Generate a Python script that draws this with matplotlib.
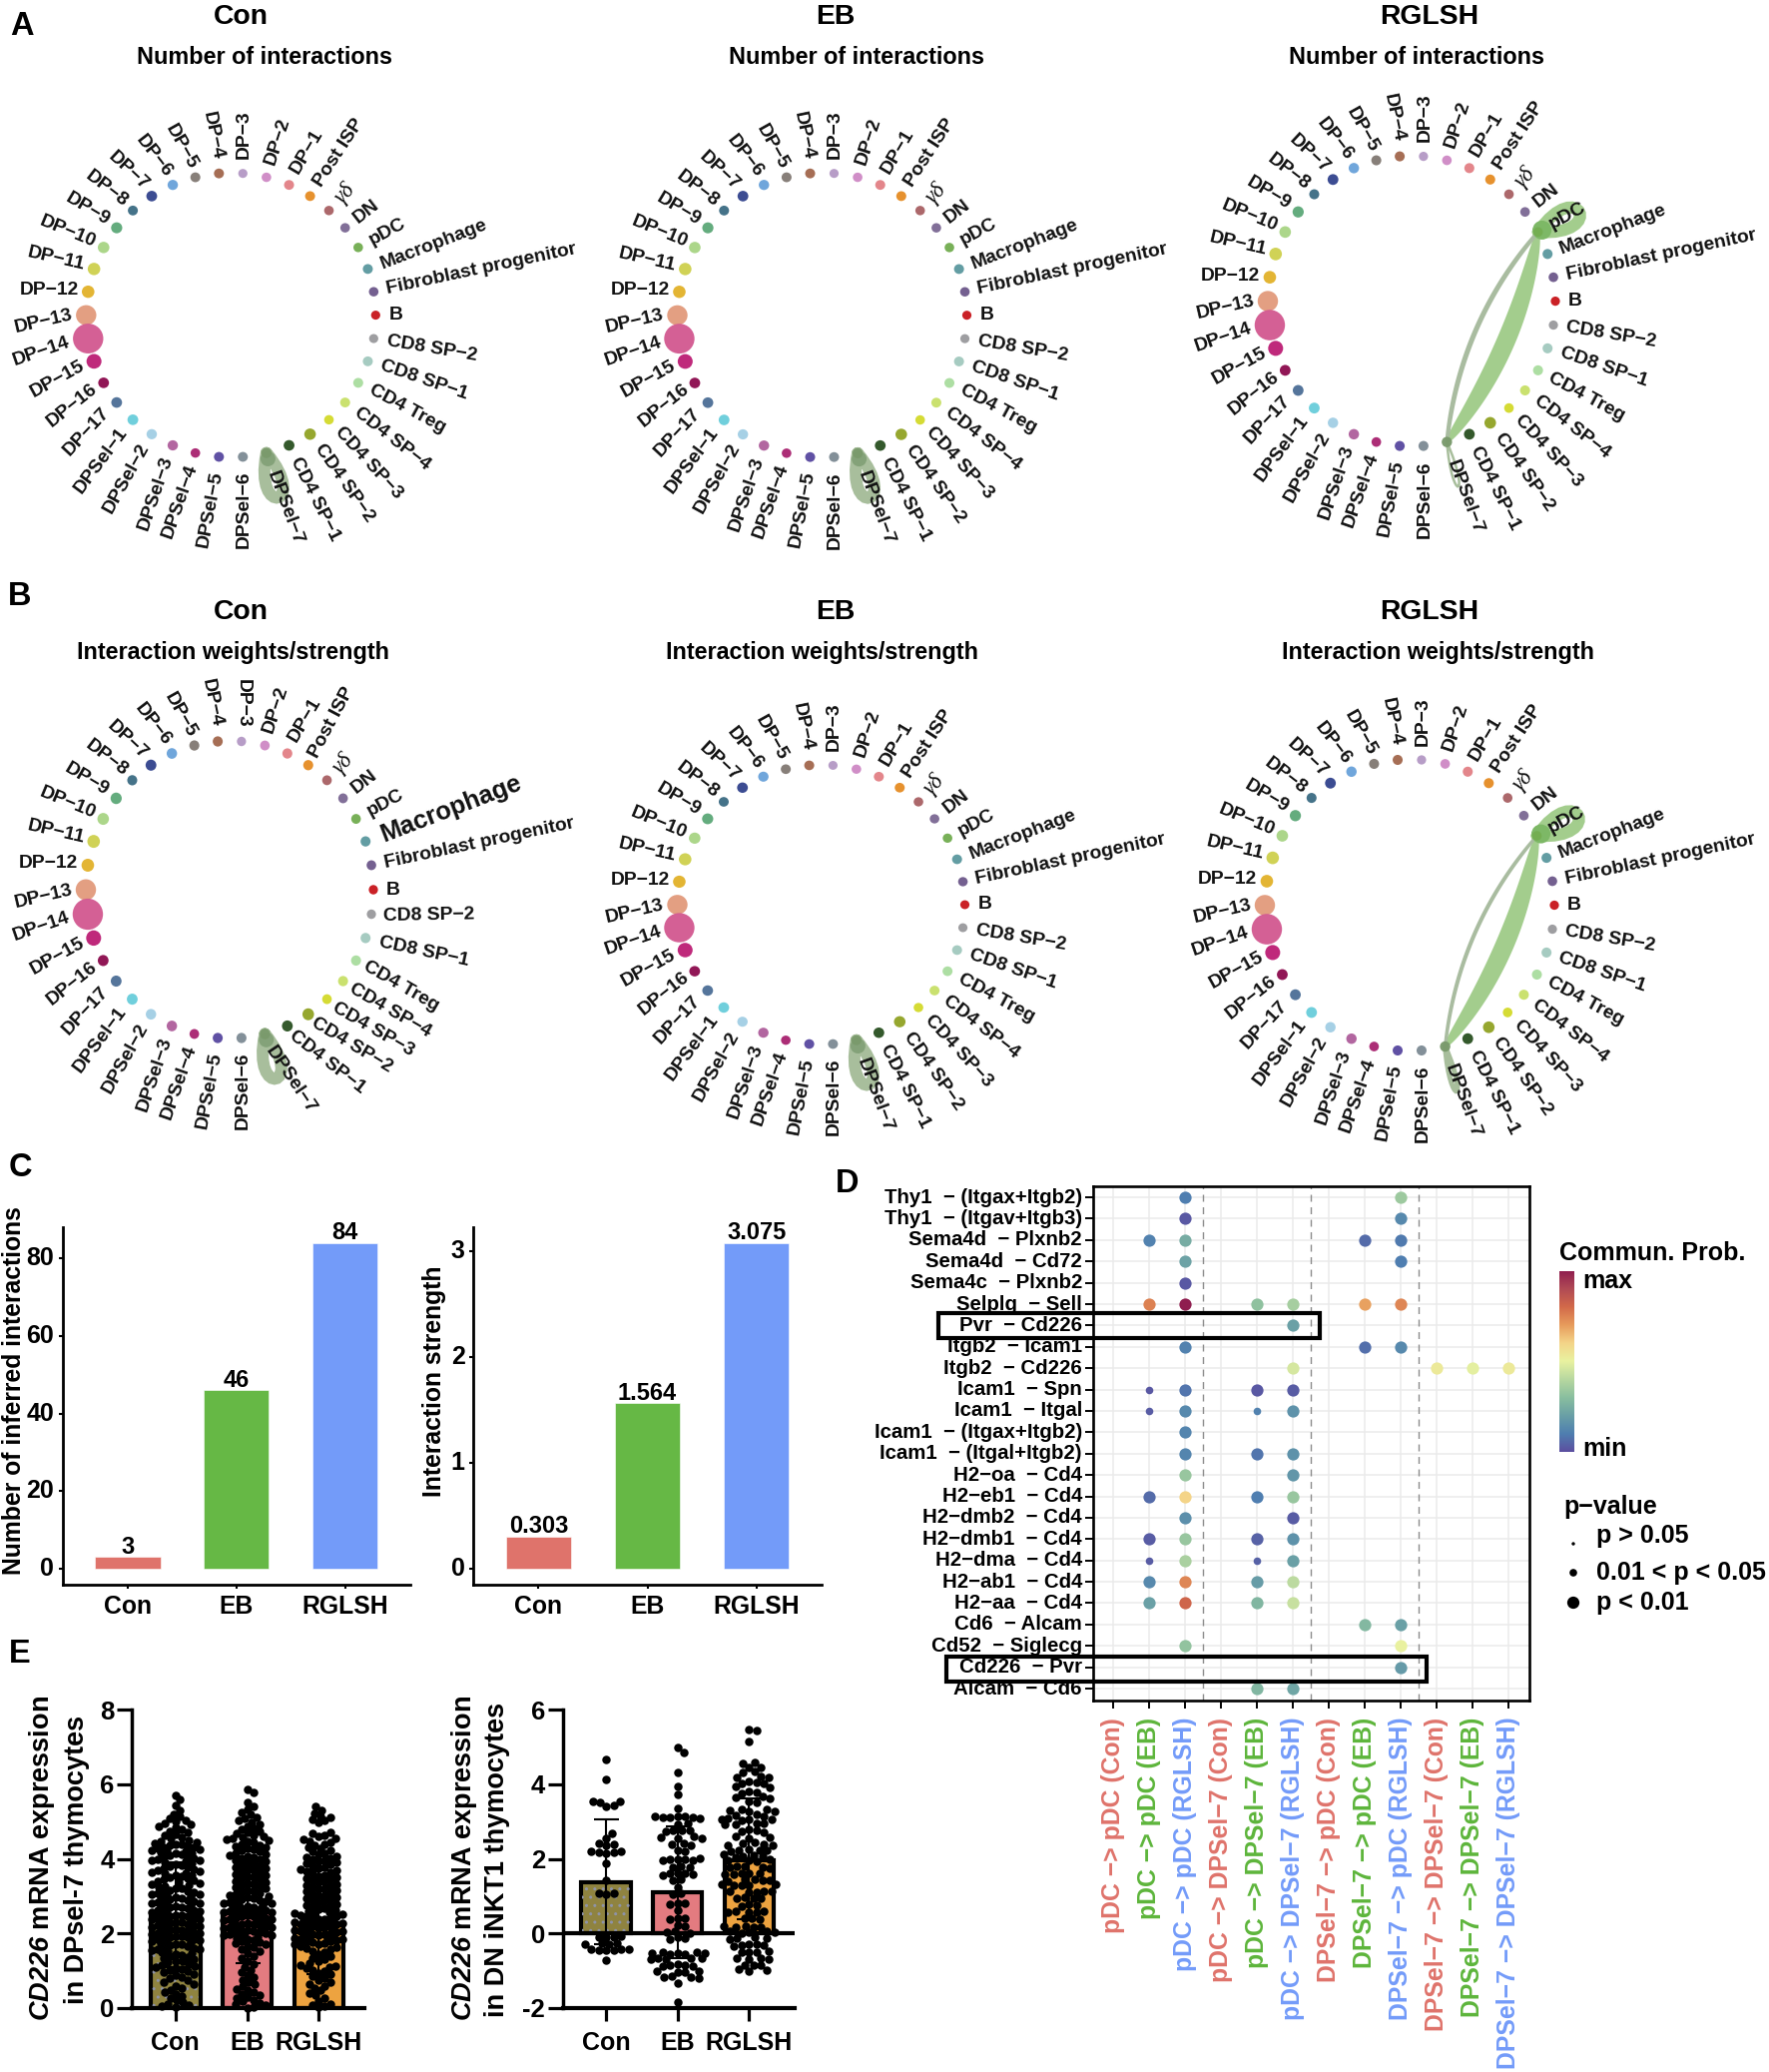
import numpy as np
import matplotlib
matplotlib.use('Agg')
import matplotlib.pyplot as plt
from matplotlib.patches import Ellipse, Polygon, PathPatch, Rectangle
from matplotlib.path import Path
from matplotlib.colors import LinearSegmentedColormap
from matplotlib.transforms import ScaledTranslation

plt.rcParams['font.family'] = ['Liberation Sans', 'DejaVu Sans']
plt.rcParams['font.weight'] = 'bold'
plt.rcParams['mathtext.fontset'] = 'custom'
plt.rcParams['mathtext.bfit'] = 'Liberation Sans:italic:bold'
plt.rcParams['mathtext.rm'] = 'Liberation Sans:bold'
plt.rcParams['hatch.linewidth'] = 1.0

W, H = 1772, 2075
PX = 72 / 100  # points per pixel

# ---------------- data: circle plots ----------------
cell_names = ['B', 'Fibroblast progenitor', 'Macrophage', 'pDC', 'DN', 'γδ', 'Post ISP',
              'DP−1', 'DP−2', 'DP−3', 'DP−4', 'DP−5', 'DP−6', 'DP−7', 'DP−8', 'DP−9', 'DP−10',
              'DP−11', 'DP−12', 'DP−13', 'DP−14', 'DP−15', 'DP−16', 'DP−17',
              'DPSel−1', 'DPSel−2', 'DPSel−3', 'DPSel−4', 'DPSel−5', 'DPSel−6', 'DPSel−7',
              'CD4 SP−1', 'CD4 SP−2', 'CD4 SP−3', 'CD4 SP−4', 'CD4 Treg', 'CD8 SP−1', 'CD8 SP−2']
cell_colors = ['#C9191F', '#6F5B8C', '#5E9AA0', '#74AE52', '#7D6A95', '#AA6366', '#E68E27',
               '#E38287', '#CF8AC5', '#B59AC6', '#A3694F', '#837B75', '#6BA3DA', '#35468F',
               '#3F6E85', '#5FA97A', '#A9D586', '#CFD150', '#E3B32D', '#E39C7E', '#D35B92',
               '#BD2277', '#8E0F50', '#4F7198', '#6BCEDB', '#A3CFE5', '#B0619D', '#A92672',
               '#5B4BA1', '#7F8C96', '#7A9A6C', '#2D5425', '#93A428', '#D4DA2E', '#C9E06A',
               '#ABDDA0', '#A3CABF', '#9B9B9E']
cell_sizes = [4.6, 4.8, 5.0, 4.8, 4.8, 4.8, 5.0, 5.0, 4.8, 4.6, 5.0, 5.0, 5.2, 5.4, 5.0, 5.6, 5.8,
              6.3, 6.3, 10.2, 15.2, 7.5, 5.4, 5.4, 5.4, 5.2, 5.2, 4.8, 5.0, 5.0, 5.2, 5.4, 5.8,
              4.8, 5.0, 5.0, 5.0, 4.6]
# measured tilt of each label against its node's radial direction, degrees
label_tilt = {'DP−1': -7, 'DP−2': -4, 'DP−3': 4.7, 'DP−4': 7, 'DP−5': 15, 'DP−6': 14, 'DP−7': 14, 'DP−8': 10,
              'DP−9': 7, 'DP−10': 6, 'DP−11': 6, 'DP−12': 9.5, 'DP−13': 13, 'DP−14': 9.5, 'DP−15': 10,
              'DP−16': 10, 'DP−17': 9, 'DPSel−1': 6, 'DPSel−2': 4, 'DPSel−3': 5, 'DPSel−4': -5, 'DPSel−5': -6,
              'DPSel−7': 6, 'Fibroblast progenitor': 2.5, 'Macrophage': 2, 'CD4 SP−1': 3, 'CD4 SP−2': 2}

# loop/link strengths: (source, target, width in px)
links_con = [('DPSel−7', 'DPSel−7', 12)]
links_rglsh_num = [('DPSel−7', 'DPSel−7', 2.5), ('pDC', 'pDC', 12),
                   ('DPSel−7', 'pDC', 17), ('pDC', 'DPSel−7', 3.5)]
links_rglsh_str = [('DPSel−7', 'DPSel−7', 5), ('pDC', 'pDC', 12),
                   ('DPSel−7', 'pDC', 17), ('pDC', 'DPSel−7', 2.5)]

# ---------------- data: bars ----------------
groups = ['Con', 'EB', 'RGLSH']
group_colors = ['#DF736B', '#66B845', '#739BF9']
n_interactions = [3, 46, 84]
strength = [0.303, 1.564, 3.075]
strength_labels = ['0.303', '1.564', '3.075']

# ---------------- data: dot plot ----------------
lr_pairs = ['Thy1  − (Itgax+Itgb2)', 'Thy1  − (Itgav+Itgb3)', 'Sema4d  − Plxnb2', 'Sema4d  − Cd72',
            'Sema4c  − Plxnb2', 'Selplg  − Sell', 'Pvr  − Cd226', 'Itgb2  − Icam1', 'Itgb2  − Cd226',
            'Icam1  − Spn', 'Icam1  − Itgal', 'Icam1  − (Itgax+Itgb2)', 'Icam1  − (Itgal+Itgb2)',
            'H2−oa  − Cd4', 'H2−eb1  − Cd4', 'H2−dmb2  − Cd4', 'H2−dmb1  − Cd4', 'H2−dma  − Cd4',
            'H2−ab1  − Cd4', 'H2−aa  − Cd4', 'Cd6  − Alcam', 'Cd52  − Siglecg', 'Cd226  − Pvr',
            'Alcam  − Cd6']
lr_label_shift = [-1, -1, 1, 1, -1.5, -1, -1, -4, -1.5, -1, -1.5, -1, 0, 1, 0, 0, 2, 1, -2.5, -1,
                  0, 0, 1.5, 0]
pair_labels = ['pDC −> pDC (Con)', 'pDC −> pDC (EB)', 'pDC −> pDC (RGLSH)',
               'pDC −> DPSel−7 (Con)', 'pDC −> DPSel−7 (EB)', 'pDC −> DPSel−7 (RGLSH)',
               'DPSel−7 −> pDC (Con)', 'DPSel−7 −> pDC (EB)', 'DPSel−7 −> pDC (RGLSH)',
               'DPSel−7 −> DPSel−7 (Con)', 'DPSel−7 −> DPSel−7 (EB)', 'DPSel−7 −> DPSel−7 (RGLSH)']
pair_colors = ['#DF736B', '#5DB53B', '#739BF9'] * 4
dot_rows = [0, 0, 1, 1, 2, 2, 2, 2, 3, 3, 4, 5, 5, 5, 5, 5, 5, 6, 7, 7, 7, 8, 8, 8, 8,
            9, 9, 9, 9, 10, 10, 10, 10, 11, 12, 12, 12, 13, 13, 14, 14, 14, 14, 15, 15,
            16, 16, 16, 16, 17, 17, 17, 17, 18, 18, 18, 18, 19, 19, 19, 19, 20, 20, 21, 21, 22, 23, 23]
dot_cols = [2, 8, 2, 8, 1, 2, 7, 8, 2, 8, 2, 1, 2, 4, 5, 7, 8, 5, 2, 7, 8, 5, 9, 10, 11,
            1, 2, 4, 5, 1, 2, 4, 5, 2, 2, 4, 5, 2, 5, 1, 2, 4, 5, 2, 5,
            1, 2, 4, 5, 1, 2, 4, 5, 1, 2, 4, 5, 1, 2, 4, 5, 7, 8, 2, 8, 8, 4, 5]
dot_vals = [0.10, 0.34, 0.02, 0.13, 0.11, 0.24, 0.06, 0.09, 0.21, 0.10, 0.02,
            0.75, 1.00, 0.31, 0.36, 0.69, 0.74, 0.20, 0.11, 0.07, 0.13, 0.46, 0.53, 0.49, 0.53,
            0.02, 0.08, 0.02, 0.03, 0.03, 0.13, 0.11, 0.16, 0.12, 0.12, 0.08, 0.16, 0.33, 0.17,
            0.06, 0.60, 0.10, 0.33, 0.15, 0.03, 0.03, 0.33, 0.04, 0.16, 0.03, 0.37, 0.04, 0.20,
            0.13, 0.74, 0.19, 0.41, 0.20, 0.81, 0.27, 0.43, 0.28, 0.20, 0.32, 0.50, 0.18, 0.27, 0.22]
dot_small = {(9, 1), (10, 1), (10, 4), (17, 1), (17, 4)}
cbar_stops = ['#5C4FA0', '#4F7FB0', '#6AA0A6', '#8ABF9F', '#B8D8A0', '#E9F2A0', '#F4D488', '#E79B5C',
              '#D2694A', '#B04A55', '#8F1D4F']

# ---------------- data: expression bars ----------------
dpsel_means = [2.50, 2.57, 2.28]
dpsel_lower = [1.10, 1.20, 0.90]
dpsel_upper = [3.90, 3.94, 3.68]
dn_means = [1.37, 1.10, 1.97]
dn_lower = [-0.30, -0.65, 0.37]
dn_upper = [3.05, 2.88, 3.63]
expr_colors = ['#8F8340', '#E37B80', '#EDA340']

dpsel_con = [0.02, 0.05, 0.08, 0.12, 0.17, 0.22, 0.27, 0.33, 0.38, 0.44, 0.49, 0.54, 0.6, 0.65, 0.7, 0.75, 0.8, 0.84,
             0.88, 0.92, 0.96, 0.99, 1.02, 1.05, 1.07, 1.1, 1.13, 1.16, 1.19, 1.22, 1.25, 1.27, 1.3, 1.33, 1.36, 1.38,
             1.41, 1.44, 1.47, 1.49, 1.52, 1.54, 1.57, 1.59, 1.61, 1.63, 1.66, 1.68, 1.7, 1.72, 1.74, 1.76, 1.78, 1.8,
             1.82, 1.84, 1.85, 1.87, 1.89, 1.9, 1.92, 1.93, 1.95, 1.96, 1.97, 1.98, 1.99, 2.0, 2.02, 2.03, 2.05, 2.06,
             2.08, 2.1, 2.11, 2.13, 2.15, 2.16, 2.18, 2.19, 2.21, 2.23, 2.24, 2.26, 2.27, 2.29, 2.31, 2.32, 2.34, 2.35,
             2.37, 2.39, 2.4, 2.42, 2.44, 2.45, 2.47, 2.48, 2.5, 2.52, 2.53, 2.55, 2.56, 2.58, 2.6, 2.62, 2.63, 2.65,
             2.67, 2.69, 2.7, 2.72, 2.74, 2.76, 2.78, 2.8, 2.82, 2.84, 2.86, 2.88, 2.9, 2.92, 2.94, 2.96, 2.98, 3.0,
             3.02, 3.04, 3.06, 3.08, 3.1, 3.12, 3.14, 3.17, 3.2, 3.22, 3.25, 3.27, 3.3, 3.32, 3.35, 3.37, 3.4, 3.42,
             3.45, 3.47, 3.5, 3.52, 3.55, 3.57, 3.6, 3.62, 3.65, 3.67, 3.7, 3.72, 3.75, 3.77, 3.8, 3.82, 3.85, 3.87,
             3.9, 3.92, 3.95, 3.97, 4.0, 4.02, 4.05, 4.07, 4.1, 4.12, 4.14, 4.16, 4.18, 4.2, 4.22, 4.24, 4.26, 4.28,
             4.3, 4.32, 4.34, 4.36, 4.38, 4.4, 4.42, 4.44, 4.47, 4.5, 4.54, 4.58, 4.62, 4.66, 4.7, 4.74, 4.78, 4.83,
             4.88, 4.92, 4.96, 5.0, 5.04, 5.08, 5.13, 5.2, 5.3, 5.42, 5.58, 5.7]
dpsel_eb = [0.01, 0.04, 0.07, 0.1, 0.14, 0.18, 0.22, 0.26, 0.3, 0.34, 0.38, 0.42, 0.47, 0.52, 0.58, 0.64, 0.7, 0.76,
            0.82, 0.88, 0.95, 1.02, 1.1, 1.17, 1.25, 1.33, 1.4, 1.47, 1.53, 1.58, 1.63, 1.67, 1.71, 1.74, 1.77, 1.8,
            1.83, 1.85, 1.88, 1.9, 1.92, 1.94, 1.96, 1.98, 2.0, 2.01, 2.03, 2.05, 2.06, 2.08, 2.09, 2.11, 2.13, 2.14,
            2.16, 2.17, 2.19, 2.21, 2.22, 2.24, 2.25, 2.27, 2.29, 2.3, 2.32, 2.34, 2.35, 2.37, 2.38, 2.4, 2.42, 2.43,
            2.45, 2.47, 2.49, 2.5, 2.52, 2.54, 2.56, 2.58, 2.6, 2.62, 2.64, 2.66, 2.68, 2.7, 2.72, 2.74, 2.76, 2.78,
            2.8, 2.82, 2.84, 2.86, 2.88, 2.9, 2.92, 2.95, 2.97, 3.0, 3.02, 3.05, 3.07, 3.1, 3.13, 3.16, 3.2, 3.23,
            3.26, 3.29, 3.32, 3.35, 3.38, 3.41, 3.44, 3.47, 3.5, 3.53, 3.56, 3.59, 3.62, 3.65, 3.68, 3.71, 3.74,
            3.77, 3.8, 3.83, 3.86, 3.89, 3.92, 3.95, 3.98, 4.01, 4.04, 4.07, 4.1, 4.13, 4.16, 4.19, 4.22, 4.25, 4.28,
            4.31, 4.34, 4.37, 4.4, 4.43, 4.46, 4.49, 4.52, 4.55, 4.58, 4.61, 4.64, 4.67, 4.7, 4.74, 4.78, 4.82, 4.87,
            4.92, 4.98, 5.03, 5.08, 5.12, 5.18, 5.24, 5.32, 5.4, 5.5, 5.78, 5.85]
dpsel_rg = [0.02, 0.05, 0.08, 0.12, 0.2, 0.27, 0.34, 0.4, 0.47, 0.53, 0.58, 0.64, 0.7, 0.76, 0.8, 0.85, 0.9, 0.94,
            0.98, 1.02, 1.06, 1.09, 1.13, 1.16, 1.2, 1.25, 1.3, 1.35, 1.4, 1.45, 1.49, 1.53, 1.57, 1.61, 1.64, 1.67,
            1.7, 1.72, 1.74, 1.76, 1.78, 1.8, 1.82, 1.84, 1.85, 1.87, 1.88, 1.9, 1.92, 1.93, 1.95, 1.97, 1.98, 2.0,
            2.02, 2.03, 2.05, 2.07, 2.09, 2.1, 2.12, 2.14, 2.15, 2.17, 2.19, 2.2, 2.22, 2.24, 2.25, 2.27, 2.29, 2.31,
            2.33, 2.35, 2.37, 2.39, 2.41, 2.43, 2.45, 2.47, 2.49, 2.51, 2.53, 2.55, 2.57, 2.59, 2.61, 2.64, 2.67,
            2.7, 2.73, 2.76, 2.79, 2.82, 2.85, 2.88, 2.91, 2.94, 2.97, 3.0, 3.03, 3.06, 3.09, 3.12, 3.15, 3.18, 3.21,
            3.24, 3.27, 3.3, 3.33, 3.36, 3.39, 3.42, 3.45, 3.48, 3.51, 3.54, 3.57, 3.6, 3.63, 3.66, 3.69, 3.72, 3.75,
            3.78, 3.81, 3.84, 3.87, 3.9, 3.93, 3.96, 3.99, 4.02, 4.05, 4.08, 4.12, 4.16, 4.2, 4.24, 4.28, 4.32, 4.36,
            4.4, 4.44, 4.48, 4.52, 4.56, 4.6, 4.64, 4.68, 4.72, 4.98, 5.02, 5.06, 5.1, 5.14, 5.22, 5.3, 5.4]
dn_con = [4.65, 4.12, 3.55, 3.53, 3.5, 3.42, 3.4, 2.68, 2.54, 2.41, 2.38, 2.35, 2.2, 2.19, 2.18, 2.17, 2.16,
          1.87, 1.43, 1.09, 1.07, 1.05, -0.08, -0.09, -0.1, -0.11, -0.26, -0.27, -0.28, -0.3, -0.41, -0.42,
          -0.43, -0.44, -0.45, -0.46, -0.71]
dn_eb = [4.97, 4.86, 4.32, 3.94, 3.73, 3.34, 3.15, 3.14, 3.13, 3.12, 3.11, 3.1, 3.09, 2.95, 2.92, 2.77,
         2.76, 2.75, 2.74, 2.6, 2.58, 2.56, 2.54, 2.42, 2.4, 2.37, 2.22, 2.19, 2.02, 2.0, 1.99, 1.98, 1.97, 1.96,
         1.8, 1.78, 1.76, 1.62, 1.61, 1.6, 1.58, 1.57, 1.44, 1.42, 1.25, 1.08, 1.05, 0.82, 0.8, 0.78, 0.62, 0.42,
         0.4, 0.38, 0.23, 0.2, 0.06, 0.04, 0.02, -0.11, -0.13, -0.15, -0.5, -0.51, -0.52, -0.53, -0.54, -0.55,
         -0.56, -0.65, -0.66, -0.67, -0.68, -0.7, -0.83, -0.85, -0.86, -0.87, -0.88, -1.0,
         -1.02, -1.03, -1.05, -1.14, -1.16, -1.17, -1.19, -1.34, -1.83]
dn_rg = [5.47, 5.44, 5.15, 4.58, 4.55, 4.46, 4.44, 4.34, 4.31, 4.21, 4.19, 4.17, 4.07, 4.05, 4.03, 4.01, 3.93,
         3.9, 3.8, 3.78, 3.75, 3.67, 3.65, 3.62, 3.54, 3.5, 3.33, 3.32, 3.3, 3.28, 3.27, 3.18, 3.16,
         3.14, 3.09, 3.07, 3.06, 3.05, 3.04, 2.96, 2.95, 2.93, 2.91,
         2.78, 2.76, 2.74, 2.72, 2.6, 2.58, 2.55, 2.43, 2.41, 2.39, 2.37, 2.35, 2.26, 2.24, 2.23, 2.22,
         2.2, 2.12, 2.1, 2.08, 2.07, 2.05, 1.98, 1.96, 1.95, 1.93, 1.8,
         1.79, 1.78, 1.76, 1.75, 1.62, 1.61, 1.6, 1.59, 1.58, 1.45, 1.44, 1.43, 1.42, 1.41, 1.32, 1.31,
         1.3, 1.29, 1.28, 1.14, 1.13, 1.12, 1.11, 1.1, 0.96, 0.95, 0.94, 0.93, 0.78, 0.76, 0.74, 0.6, 0.59, 0.58,
         0.57, 0.56, 0.42, 0.4, 0.38, 0.2, 0.19, 0.18, 0.17, 0.16, 0.06, 0.05, 0.04, 0.03, 0.02, -0.11,
         -0.13, -0.14, -0.15, -0.29, -0.3, -0.31, -0.32, -0.33, -0.47, -0.49, -0.5, -0.51, -0.65, -0.67, -0.68,
         -0.69, -0.84, -0.85, -0.86, -0.96, -0.98, -1.0]

fig = plt.figure(figsize=(W / 100, H / 100), dpi=100, facecolor='white')


def px_axes(x0, y0, x1, y1, **kw):
    """Axes from pixel box (y measured from the top of the figure)."""
    return fig.add_axes([x0 / W, 1 - y1 / H, (x1 - x0) / W, (y1 - y0) / H], **kw)


ov = px_axes(0, 0, W, H)
ov.set_xlim(0, W)
ov.set_ylim(H, 0)
ov.axis('off')
ov.set_zorder(10)
ov.patch.set_alpha(0)

LABEL_FS = 13.9
LOOP_COLOR = '#A8BE9C'
LOOP_DARK = '#84A279'
CHORD_COLOR = '#A3CD8D'
CHORD_DARK = '#7DB866'
THIN_COLOR = '#A9BCA0'


def loop(ax, p, out, reach, half, lw, color):
    out = np.array(out) / np.hypot(*out)
    nrm = np.array([-out[1], out[0]])
    along = reach / 0.75
    perp = half / 0.289
    c1 = p + along * out + perp * nrm
    c2 = p + along * out - perp * nrm
    path = Path([p, c1, c2, p], [Path.MOVETO, Path.CURVE4, Path.CURVE4, Path.CURVE4])
    ax.add_patch(PathPatch(path, fc='none', ec=color, lw=lw * PX, capstyle='round', zorder=2))


def chord(ax, a, b, bend, width, color, power=0.5):
    a, b = np.array(a), np.array(b)
    t = np.linspace(0, 1, 80)
    d = b - a
    nrm = np.array([d[1], -d[0]]) / np.hypot(*d)
    c = (a + b) / 2 + bend * nrm
    pts = (1 - t)[:, None] ** 2 * a + 2 * (t * (1 - t))[:, None] * c + t[:, None] ** 2 * b
    tang = np.gradient(pts, axis=0)
    n = np.c_[tang[:, 1], -tang[:, 0]] / np.hypot(tang[:, 0], tang[:, 1])[:, None]
    w = width * (np.sin(np.pi * t) ** power)[:, None] / 2 + 0.8
    ax.add_patch(Polygon(np.r_[pts + n * w, (pts - n * w)[::-1]], closed=True, fc=color, ec='none', zorder=2))


def circle_panel(ax, cx, cy, rx, ry, links=(), over=None):
    over = over or {}
    pos = {}
    for i, (name, col, size) in enumerate(zip(cell_names, cell_colors, cell_sizes)):
        th = i * 360.0 / len(cell_names)
        rad = np.deg2rad(th)
        x, y = cx + rx * np.cos(rad), cy - ry * np.sin(rad)
        pos[name] = np.array([x, y])
        ax.add_patch(Ellipse((x, y), 2 * size, 2 * size * ry / 145, fc=col, ec='none', zorder=4, alpha=0.97))
        sth = th if th <= 180 else th - 360
        flip = (89 < sth <= 180) or (-180 <= sth < -89) or name == 'DPSel−6'
        rot = sth + 180 if flip and sth < 0 else (sth - 180 if flip else sth)
        ha = 'right' if flip else 'left'
        rot += label_tilt.get(name, 0)
        if name == 'DPSel−6':
            rot = 90
        if not flip:
            dflt = size + 8.5
        elif abs(sth) > 150:
            dflt = size + 3.5
        elif sth > 0:
            dflt = size + 5
        else:
            dflt = size + 7.5
        if name in ('DP−4', 'DP−3', 'DPSel−5', 'DPSel−6'):
            dflt = 14.5
        if name == 'DPSel−7':
            dflt = 19.5
        o = over.get(name, {})
        rot = o.get('rot', rot)
        ha = o.get('ha', ha)
        d = o.get('d', dflt)
        lx, ly = x + d * np.cos(rad) + o.get('dx', 0), y - d * np.sin(rad) + o.get('dy', 0)
        kw = dict(fontsize=o.get('fs', LABEL_FS), fontweight='bold')
        if name == 'γδ':
            kw = dict(fontsize=16.5, fontweight='normal', family='Liberation Serif', style='italic')
        ax.text(lx, ly, name, rotation=rot, rotation_mode='anchor', ha=ha, va='center', color='#111111',
                zorder=6, **kw)
    for src, dst, wd in links:
        if src == dst:
            out = pos[src] - np.array([cx, cy])
            if src == 'pDC':
                d = np.array((1, -0.48))
                loop(ax, pos[src], d, 46, 10, wd, CHORD_COLOR)
                ax.add_patch(Ellipse(pos[src] + d * 4, 19, 19, fc=CHORD_DARK, ec='none', zorder=3))
            elif wd < 6:
                loop(ax, pos[src], out, 46, 3, wd, LOOP_COLOR)
            else:
                loop(ax, pos[src], out, 46, 8.5, wd, LOOP_COLOR)
                u = out / np.hypot(*out)
                ax.add_patch(Ellipse(pos[src] + u * 6, 15, 15, fc=LOOP_DARK, ec='none', zorder=3))
        elif src == 'DPSel−7':
            chord(ax, pos[src], pos[dst], -28, wd, CHORD_COLOR)
        else:
            chord(ax, pos[dst], pos[src], 36, wd, THIN_COLOR, power=0.15)


over_bcon = {
    'Macrophage': dict(fs=18.3, rot=21, d=17),
    'CD8 SP−2': dict(rot=1, d=12),
    'CD8 SP−1': dict(rot=-12, d=14),
    'CD4 Treg': dict(rot=-30, d=10),
    'CD4 SP−4': dict(rot=-30, d=10),
    'CD4 SP−3': dict(rot=-30, d=10),
    'CD4 SP−2': dict(rot=-31, d=9),
    'CD4 SP−1': dict(rot=-38, d=9),
    'DPSel−7': dict(rot=-56, d=15),
    'DP−3': dict(rot=-90, ha='right', d=14),
    'Post ISP': dict(rot=62, d=10),
}

circle_panel(ov, 231.3, 315.6, 145, 142.4, links_con)
circle_panel(ov, 823.5, 315.7, 145, 142.5, links_con)
circle_panel(ov, 1414, 301.6, 144, 145.5, links_rglsh_num)
circle_panel(ov, 230, 891, 144, 149, links_con, over_bcon)
circle_panel(ov, 822.5, 906, 144, 140, links_con)
circle_panel(ov, 1412, 906.5, 145, 146, links_rglsh_str)

titles_top = [(241, 17, 'Con'), (837, 17, 'EB'), (1432, 17, 'RGLSH'),
              (241, 612.5, 'Con'), (837, 612.5, 'EB'), (1432, 612.5, 'RGLSH')]
for x, y, s in titles_top:
    ov.text(x, y, s, fontsize=20.4, fontweight='bold', ha='center', va='center')
subs = [(265, 58, 'Number of interactions'), (858, 58, 'Number of interactions'),
        (1419, 58, 'Number of interactions'), (234, 653.5, 'Interaction weights/strength'),
        (823.5, 653.5, 'Interaction weights/strength'), (1440.5, 653.5, 'Interaction weights/strength')]
for x, y, s in subs:
    ov.text(x, y, s, fontsize=16.8, fontweight='bold', ha='center', va='center')
for x, y, s in [(22, 26.5, 'A'), (20, 597.5, 'B'), (20, 1170, 'C'), (849, 1185.5, 'D'), (20, 1656.5, 'E')]:
    ov.text(x, y, s, fontsize=23.5, fontweight='bold', ha='center', va='center')


# ---------------- panel C ----------------
def bar_panel(box, vals, labels, ylim, ticks, ylabel, ylab_x, ylab_y):
    ax = px_axes(*box)
    ax.bar(range(3), vals, width=0.6, color=group_colors, edgecolor='white', linewidth=0.4)
    ax.set_xlim(-0.6, 2.6)
    ax.set_ylim(*ylim)
    for i, (v, l) in enumerate(zip(vals, labels)):
        ax.annotate(l, (i, v), xytext=(0, -1), textcoords='offset points', ha='center', va='bottom',
                    fontsize=17, fontweight='bold')
    ax.set_xticks(range(3))
    ax.set_xticklabels(groups, fontsize=17.8, fontweight='bold')
    ax.set_yticks(ticks)
    ax.set_yticklabels([str(t) for t in ticks], fontsize=18, fontweight='bold', va='center')
    ax.tick_params(axis='both', length=3, width=1.5, pad=3)
    ax.tick_params(axis='x', pad=4)
    for s in ('top', 'right'):
        ax.spines[s].set_visible(False)
    for s in ('left', 'bottom'):
        ax.spines[s].set_linewidth(2.0)
    ov.text(ylab_x, ylab_y, ylabel, rotation=90, fontsize=17.8, fontweight='bold', ha='center', va='center')
    return ax


bar_panel((62.5, 1229, 411, 1587), n_interactions, [str(v) for v in n_interactions], (-4.1, 88.1),
          [0, 20, 40, 60, 80], 'Number of inferred interactions', 14, 1393)
bar_panel((474, 1229, 823, 1587), strength, strength_labels, (-0.151, 3.226), [0, 1, 2, 3],
          'Interaction strength', 435, 1383.5)

# ---------------- panel D ----------------
cmap = LinearSegmentedColormap.from_list('commun', cbar_stops)
axd = px_axes(1095, 1187.5, 1532, 1703)
axd.set_xlim(-0.564, 11.57)
axd.set_ylim(23.56, -0.54)
axd.set_axisbelow(True)
axd.grid(True, color='#EBEBEB', lw=1.1)
for xv in (2.5, 5.5, 8.5):
    axd.axvline(xv, color='#8C8C8C', lw=1.0, ls=(0, (5, 4)), zorder=1)
for r, c, v in zip(dot_rows, dot_cols, dot_vals):
    small = (r, c) in dot_small
    axd.scatter([c], [r], s=30 if small else 78, c=[v], cmap=cmap, vmin=0, vmax=1, linewidths=0, zorder=3)
axd.set_xticks(range(12))
axd.set_xticklabels(pair_labels, rotation=90, fontsize=17.8, fontweight='bold', va='top', ha='center')
for lab, col in zip(axd.get_xticklabels(), pair_colors):
    lab.set_color(col)
axd.set_yticks(range(len(lr_pairs)))
axd.set_yticklabels(lr_pairs, fontsize=14.7, fontweight='bold', va='center')
for lab, sh in zip(axd.get_yticklabels(), lr_label_shift):
    lab.set_transform(lab.get_transform() + ScaledTranslation(0, -sh / 100, fig.dpi_scale_trans))
axd.tick_params(axis='both', length=6, width=1.4, pad=2)
axd.tick_params(axis='x', pad=6)
for s in axd.spines.values():
    s.set_linewidth(1.9)
# highlight boxes around two rows
ov.add_patch(Rectangle((940, 1315), 382.5, 25, fc='none', ec='black', lw=3.0))
ov.add_patch(Rectangle((948, 1659), 481, 25, fc='none', ec='black', lw=3.0))

# colour bar & legends
axc = px_axes(1562, 1272.5, 1576.5, 1453.6)
axc.imshow(np.linspace(1, 0, 256)[:, None], aspect='auto', cmap=cmap, vmin=0, vmax=1)
axc.axis('off')
ov.text(1562, 1255, 'Commun. Prob.', fontsize=18, fontweight='bold', ha='left', va='center')
ov.text(1585, 1282.5, 'max', fontsize=18, fontweight='bold', ha='left', va='center')
ov.text(1585, 1451, 'min', fontsize=18, fontweight='bold', ha='left', va='center')
ov.text(1566, 1509, 'p−value', fontsize=18, fontweight='bold', ha='left', va='center')
legend_y = [1537.5, 1575, 1605]
legend_txt = ['p > 0.05', '0.01 < p < 0.05', 'p < 0.01']
legend_s = [6, 30, 78]
ov.scatter([1576] * 3, [1546, 1575, 1605], s=legend_s, c='black', linewidths=0)
for y, t in zip(legend_y, legend_txt):
    ov.text(1599, y, t, fontsize=18, fontweight='bold', ha='left', va='center')


# ---------------- panel E ----------------
def swarm(vals, ux, uy, spacing, maxw, step=1.5):
    """Beeswarm layout: nearest free slot to the centre, never wider than maxw px."""
    v = np.array(sorted(vals))
    n = len(v)
    order = [(i * 37) % n for i in range(n)] if np.gcd(37, n) == 1 else list(range(n))
    cand = [0.0]
    k = 1
    while k * step <= maxw:
        cand += [k * step, -k * step]
        k += 1
    cand = np.array(cand)
    px, py = [], []
    off = np.zeros(n)
    for idx in order:
        if px:
            dy = (v[idx] - np.array(py)) * uy
            dist = np.sqrt((cand[:, None] - np.array(px)) ** 2 + dy ** 2).min(axis=1)
            ok = np.nonzero(dist >= spacing)[0]
            best = ok[0] if len(ok) else int(np.argmax(dist))
        else:
            best = 0
        off[idx] = cand[best]
        px.append(cand[best])
        py.append(v[idx])
    return v, off / ux


def expr_panel(box, means, lower, upper, swarms, ylim, ticks, ux, uy, spacing, s, maxw, zero=False):
    ax = px_axes(*box)
    ax.bar(range(3), means, width=0.69, color=expr_colors, edgecolor='black', linewidth=3.0, zorder=2)
    ax.bar([0], [means[0]], width=0.66, color='none', edgecolor='#8E93A8', hatch='..', linewidth=0, zorder=2.1)
    ax.errorbar(range(3), means, yerr=[np.array(means) - lower, np.array(upper) - means], fmt='none',
                ecolor='black', elinewidth=1.5, capsize=9, capthick=1.5, zorder=3)
    for i, vals in enumerate(swarms):
        v, off = swarm(vals, ux, uy, spacing, maxw)
        ax.scatter(off + i, v, s=s, c='black', linewidths=0, zorder=4, clip_on=False)
    ax.set_xlim(-0.604, 2.635)
    ax.set_ylim(*ylim)
    ax.set_xticks(range(3))
    ax.set_xticklabels(groups, fontsize=18, fontweight='bold')
    ax.set_yticks(ticks)
    ax.set_yticklabels([str(t) for t in ticks], fontsize=18.5, fontweight='bold')
    ax.tick_params(axis='x', length=13 * PX, width=2.3, pad=7)
    ax.tick_params(axis='y', length=15 * PX, width=2.3, pad=2)
    for sp in ('top', 'right'):
        ax.spines[sp].set_visible(False)
    ax.spines['left'].set_linewidth(2.5)
    ax.spines['bottom'].set_linewidth(3)
    if zero:
        ax.axhline(0, color='black', lw=3, zorder=3.5)
    return ax


expr_panel((132.4, 1712, 365, 2011), dpsel_means, dpsel_lower, dpsel_upper, [dpsel_con, dpsel_eb, dpsel_rg],
           (0, 8), [0, 2, 4, 6, 8], 71.85, 37.4, 6.0, 37, 26)
expr_panel((563.8, 1712, 795.7, 2011), dn_means, dn_lower, dn_upper, [dn_con, dn_eb, dn_rg],
           (-2, 6), [-2, 0, 2, 4, 6], 71.5, 37.4, 7.0, 37, 27, zero=True)
for x1, x2, line2 in [(42, 77, 'in DPsel-7 thymocytes'), (465, 498, 'in DN iNKT1 thymocytes')]:
    ov.text(x1, 1860.5, r'$\mathbfit{CD226}$ mRNA expression', rotation=90, fontsize=19.5, fontweight='bold',
            ha='center', va='center')
    ov.text(x2, 1862.5, line2, rotation=90, fontsize=19.5, fontweight='bold', ha='center', va='center')

fig.savefig('out.png', dpi=100)
